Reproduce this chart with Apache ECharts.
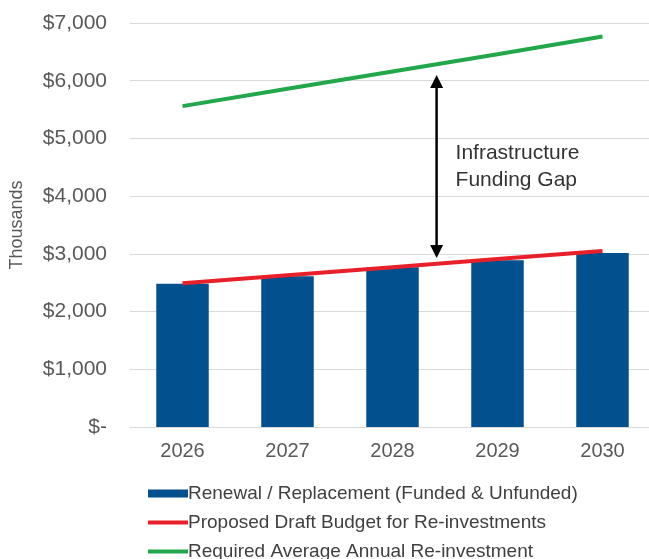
<!DOCTYPE html>
<html><head><meta charset="utf-8">
<script src="https://cdn.jsdelivr.net/npm/echarts@6/dist/echarts.min.js"></script>
<style>html,body{margin:0;padding:0;background:#fff;}#c{width:649px;height:559px;}</style>
</head><body><div id="c"></div>
<script>
const categories = ['2026', '2027', '2028', '2029', '2030'];
const renewalValues = [2480, 2610, 2770, 2890, 3015];
const draftBudgetValues = [2490, 2630, 2770, 2910, 3050];
const requiredValues = [5560, 5860, 6160, 6460, 6765];
const yTicks = { min: 0, max: 7000, interval: 1000 };
const gapArrow = { catPos: 2.42, from: 2930, to: 6100, label: ['Infrastructure', 'Funding Gap'] };
const seriesNames = ['Renewal / Replacement (Funded & Unfunded)', 'Proposed Draft Budget for Re-investments', 'Required Average Annual Re-investment'];

const chart = echarts.init(document.getElementById('c'), null, { renderer: 'canvas' });
const axisFont = 'Liberation Sans, Arial, sans-serif';
const legendText = { color: '#404040', fontSize: 19, fontFamily: axisFont, padding: [0, 0, 0, -5] };
const legendTops = [479, 508, 537];
chart.setOption({
  animation: false,
  grid: { left: 130, right: -6, top: 23, bottom: 132, containLabel: false, outerBoundsMode: 'none' },
  xAxis: {
    type: 'category', data: categories, boundaryGap: true,
    axisLine: { show: true, lineStyle: { color: '#D9D9D9', width: 1 } },
    axisTick: { show: false },
    axisLabel: { color: '#595959', fontSize: 20, fontFamily: axisFont, margin: 14 }
  },
  yAxis: {
    type: 'value', min: yTicks.min, max: yTicks.max, interval: yTicks.interval,
    name: 'Thousands', nameLocation: 'middle', nameRotate: 90, nameGap: 104,
    nameTextStyle: { color: '#595959', fontSize: 18, fontFamily: axisFont },
    axisLine: { show: false }, axisTick: { show: false },
    splitLine: { lineStyle: { color: '#D9D9D9', width: 1 } },
    axisLabel: {
      color: '#595959', fontSize: 21, fontFamily: axisFont, margin: 23,
      formatter: v => v === 0 ? '$-' : '$' + v.toLocaleString('en-US')
    }
  },
  legend: [
    { left: 143, top: legendTops[0], itemWidth: 40, itemHeight: 8, icon: 'rect',
      textStyle: legendText, data: [seriesNames[0]] },
    { left: 143, top: legendTops[1], itemWidth: 40, itemHeight: 4, icon: 'rect',
      textStyle: legendText, data: [seriesNames[1]] },
    { left: 143, top: legendTops[2], itemWidth: 40, itemHeight: 4, icon: 'rect',
      textStyle: legendText, data: [seriesNames[2]] }
  ],
  series: [
    { name: seriesNames[0], type: 'bar', data: renewalValues, barWidth: '50%',
      itemStyle: { color: '#03508E' } },
    { name: seriesNames[1], type: 'line', data: draftBudgetValues, symbol: 'none',
      lineStyle: { color: '#E8202A', width: 4 }, itemStyle: { color: '#E8202A' } },
    { name: seriesNames[2], type: 'line', data: requiredValues, symbol: 'none',
      lineStyle: { color: '#22A84A', width: 4 }, itemStyle: { color: '#22A84A' } }
  ]
});

function drawArrow() {
  const i0 = Math.floor(gapArrow.catPos), f = gapArrow.catPos - i0;
  const pA = chart.convertToPixel({ gridIndex: 0 }, [i0, gapArrow.to]);
  const pB = chart.convertToPixel({ gridIndex: 0 }, [i0 + 1, gapArrow.to]);
  const x = pA[0] + (pB[0] - pA[0]) * f;
  const yTop = pA[1];
  const yBot = chart.convertToPixel({ gridIndex: 0 }, [i0, gapArrow.from])[1];
  const hw = 6.5, hh = 13;
  chart.setOption({
    graphic: [
      { type: 'line', shape: { x1: x, y1: yTop + hh - 1, x2: x, y2: yBot - hh + 1 },
        style: { stroke: '#000', lineWidth: 2.5 } },
      { type: 'polygon', shape: { points: [[x, yTop], [x - hw, yTop + hh], [x + hw, yTop + hh]] },
        style: { fill: '#000' } },
      { type: 'polygon', shape: { points: [[x, yBot], [x - hw, yBot - hh], [x + hw, yBot - hh]] },
        style: { fill: '#000' } },
      { type: 'text', x: x + 19, y: 140,
        style: { text: gapArrow.label.join('\n'), fill: '#333', fontSize: 21, lineHeight: 27,
          fontFamily: axisFont } }
    ]
  });
}
drawArrow();
</script></body></html>
